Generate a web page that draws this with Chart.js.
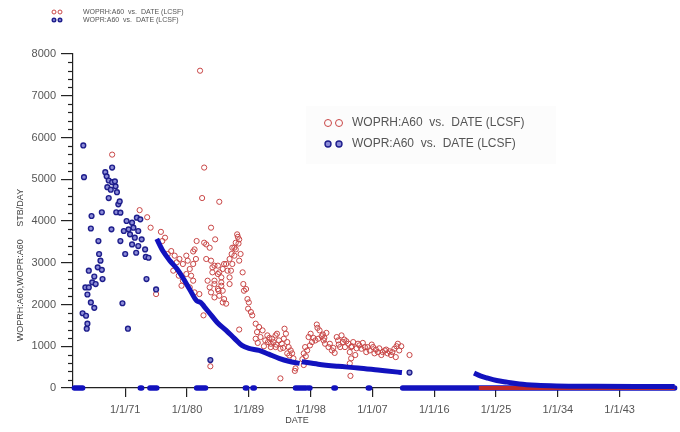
<!doctype html>
<html>
<head>
<meta charset="utf-8">
<title>WOPR A60</title>
<script src="https://cdn.jsdelivr.net/npm/chart.js"></script>
<style>
    html, body { margin: 0; padding: 0; background: #fff; }
    #wrap { width: 680px; height: 432px; position: relative; }
</style>
</head>
<body>
<div id="wrap"><canvas id="rateChart"></canvas></div>
<script>
    // date axis ticks (decimal years) and their labels
    var tickYears = [1971, 1980, 1989, 1998, 2007, 2016, 2025, 2034, 2043];
    var tickLabels = ['1/1/71', '1/1/80', '1/1/89', '1/1/98', '1/1/07', '1/1/16', '1/1/25', '1/1/34', '1/1/43'];

    // WOPRH:A60 observed rates [year, STB/DAY]
    var woprhPoints = [
        [1969.1, 5590], [1973.1, 4260], [1974.2, 4090], [1974.7, 3840], [1975.5, 2250], [1976.2, 3740],
        [1976.4, 3520], [1976.8, 3600], [1977.2, 3210], [1977.7, 3280], [1978.0, 2810], [1978.2, 3170],
        [1978.5, 3010], [1978.8, 2690], [1978.9, 3090], [1979.2, 2450], [1979.4, 2970], [1979.4, 2570],
        [1979.9, 3170], [1979.9, 2730], [1980.1, 3050], [1980.4, 2850], [1980.4, 2410], [1980.6, 2690],
        [1980.9, 2570], [1980.9, 3270], [1980.9, 2970], [1981.1, 2290], [1981.1, 3320], [1981.3, 3090],
        [1981.4, 3520], [1981.8, 2250], [1981.9, 7600], [1982.2, 4550], [1982.4, 1740], [1982.5, 5280],
        [1982.5, 3480], [1982.8, 3440], [1982.8, 3090], [1983.0, 2570], [1983.3, 3360], [1983.3, 2410],
        [1983.4, 520], [1983.5, 3840], [1983.5, 3050], [1983.5, 2290], [1983.7, 2770], [1983.7, 2890],
        [1984.0, 2930], [1984.0, 2490], [1984.0, 2170], [1984.0, 2570], [1984.1, 3560], [1984.5, 2930],
        [1984.5, 2370], [1984.5, 2730], [1984.6, 2330], [1984.7, 4460], [1984.7, 2770], [1984.7, 2210],
        [1985.0, 2650], [1985.0, 2530], [1985.0, 2450], [1985.2, 2850], [1985.2, 2330], [1985.2, 2050],
        [1985.4, 2130], [1985.4, 2970], [1985.7, 2970], [1985.7, 2020], [1985.9, 2810], [1986.2, 3090],
        [1986.2, 2650], [1986.2, 2490], [1986.4, 2810], [1986.5, 3210], [1986.6, 2970], [1986.6, 3360],
        [1986.9, 3360], [1986.9, 3170], [1987.1, 3480], [1987.1, 3320], [1987.3, 3680], [1987.4, 3620],
        [1987.5, 3460], [1987.6, 3560], [1987.6, 3050], [1987.6, 1400], [1987.8, 3210], [1988.1, 2770],
        [1988.2, 2490], [1988.3, 2330], [1988.6, 2370], [1988.8, 2130], [1988.9, 1900], [1989.0, 2050],
        [1989.3, 1820], [1989.5, 1740], [1990.0, 1540], [1990.0, 1180], [1990.2, 1340], [1990.3, 1080],
        [1990.5, 1460], [1990.7, 1220], [1991.0, 1380], [1991.2, 1000], [1991.4, 1140], [1991.7, 1260],
        [1991.8, 1100], [1992.0, 1200], [1992.2, 1060], [1992.2, 980], [1992.4, 1180], [1992.6, 1100],
        [1992.9, 1260], [1992.9, 980], [1993.0, 1040], [1993.1, 1300], [1993.4, 1140], [1993.6, 940],
        [1993.6, 230], [1993.8, 1060], [1994.0, 960], [1994.1, 1180], [1994.2, 1420], [1994.4, 1300],
        [1994.6, 1100], [1994.6, 830], [1994.8, 980], [1994.9, 780], [1995.1, 900], [1995.3, 830],
        [1995.5, 710], [1995.7, 410], [1995.8, 470], [1996.8, 690], [1997.0, 550], [1997.0, 830],
        [1997.2, 980], [1997.3, 760], [1997.5, 900], [1997.7, 1220], [1997.9, 1020], [1998.0, 1300],
        [1998.2, 1100], [1998.4, 1200], [1998.7, 1140], [1998.9, 1520], [1999.0, 1440], [1999.1, 1180],
        [1999.3, 1380], [1999.6, 1240], [1999.8, 1280], [1999.9, 1140], [2000.0, 1200], [2000.1, 1060],
        [2000.3, 1320], [2000.6, 980], [2000.8, 1060], [2001.1, 900], [2001.3, 960], [2001.5, 840],
        [2001.8, 1220], [2002.0, 1140], [2002.1, 1040], [2002.3, 980], [2002.5, 1260], [2002.7, 1100],
        [2002.9, 1160], [2003.0, 980], [2003.2, 1120], [2003.5, 1060], [2003.7, 860], [2003.7, 590],
        [2003.8, 290], [2003.9, 980], [2003.9, 710], [2004.0, 1000], [2004.2, 1100], [2004.5, 790],
        [2004.7, 950], [2004.9, 1060], [2005.1, 1020], [2005.4, 940], [2005.6, 1080], [2005.9, 980],
        [2006.1, 860], [2006.3, 980], [2006.6, 900], [2006.9, 1040], [2007.1, 980], [2007.3, 830],
        [2007.5, 920], [2007.8, 860], [2008.0, 950], [2008.3, 790], [2008.5, 860], [2008.8, 900],
        [2009.0, 920], [2009.2, 830], [2009.5, 880], [2009.7, 790], [2009.9, 860], [2010.2, 940],
        [2010.4, 740], [2010.5, 1000], [2010.7, 1060], [2010.9, 900], [2011.2, 1000], [2012.4, 790]
    ];
    // WOPRH:A60 stretches sitting on zero
    var woprhZeroSpans = [[2022.5, 2051]];

    // WOPR:A60 scattered rates [year, STB/DAY]
    var woprPoints = [
        [1964.8, 1790], [1964.9, 5810], [1965.0, 5050], [1965.2, 2410], [1965.3, 1730], [1965.4, 1420],
        [1965.5, 2240], [1965.5, 1540], [1965.7, 2810], [1965.7, 2410], [1966.0, 3820], [1966.0, 2050],
        [1966.1, 4120], [1966.2, 2530], [1966.5, 2670], [1966.5, 1920], [1966.7, 2490], [1967.0, 2890],
        [1967.1, 3520], [1967.2, 3210], [1967.4, 3050], [1967.6, 4210], [1967.6, 2830], [1967.7, 2610],
        [1968.1, 5170], [1968.3, 5070], [1968.4, 4810], [1968.6, 4970], [1968.6, 4550], [1968.9, 4750],
        [1969.0, 3800], [1969.1, 5280], [1969.1, 4930], [1969.5, 4950], [1969.6, 4830], [1969.7, 4210],
        [1969.8, 4690], [1970.0, 4400], [1970.2, 4470], [1970.3, 4200], [1970.3, 3520], [1970.6, 2030],
        [1970.8, 3760], [1971.0, 3210], [1971.2, 4000], [1971.4, 1420], [1971.5, 3800], [1971.7, 3680],
        [1972.0, 3960], [1972.0, 3440], [1972.2, 3840], [1972.4, 3600], [1972.6, 3240], [1972.7, 4080],
        [1972.9, 3760], [1972.9, 3400], [1973.2, 4040], [1973.4, 3560], [1973.9, 3320], [1974.0, 3140],
        [1974.1, 2610], [1974.4, 3120], [1975.5, 2360], [1983.4, 670], [2012.4, 370]
    ];
    // WOPR:A60 simulated history curve
    var woprCurve = [
        [1975.6, 3570], [1976.5, 3280], [1977.5, 3050], [1978.5, 2860], [1979.4, 2640], [1980.4, 2360],
        [1981.4, 2090], [1982.0, 2050], [1982.5, 1950], [1983.3, 1790], [1984.4, 1570], [1985.7, 1380],
        [1986.9, 1190], [1988.0, 1020], [1989.0, 950], [1990.5, 900], [1991.9, 810], [1993.4, 710],
        [1994.8, 640], [1996.4, 590]
    ];
    var woprCurveLate = [
        [1996.7, 630], [1999.1, 570], [2002.0, 520], [2004.9, 480], [2007.8, 430], [2010.7, 380], [2011.3, 370]
    ];
    // WOPR:A60 forecast decline
    var woprForecast = [
        [2021.8, 360], [2022.7, 290], [2023.7, 240], [2025.1, 180], [2026.6, 140], [2028.4, 95],
        [2030.9, 65], [2033.8, 50], [2039.5, 42], [2045.3, 38], [2051.0, 36]
    ];
    // WOPR:A60 stretches sitting on zero
    var woprZeroSpans = [
        [1963.6, 1964.8], [1973.2, 1973.4], [1974.6, 1975.6], [1981.4, 1982.7], [1988.5, 1988.7],
        [1989.6, 1989.8], [1995.8, 1997.3], [1997.7, 1997.9], [2001.4, 2001.6], [2006.4, 2006.6],
        [2011.4, 2051]
    ];

    var FONT = '"Liberation Sans", Arial, sans-serif';
    var RED = 'rgb(200,70,70)';
    var BLUE = 'rgb(18,18,190)';
    var BLUE_DARK = 'rgb(30,30,140)';

    function toXY(list) {
        return list.map(function (p) { return {x: p[0], y: p[1]}; });
    }

    function spansToXY(spans) {
        var out = [];
        spans.forEach(function (s) {
            out.push({x: s[0], y: 0}, {x: s[1], y: 0}, {x: s[1], y: null});
        });
        return out;
    }

    function drawMarker(ctx, type, x, y, r) {
        ctx.beginPath();
        ctx.arc(x, y, r, 0, Math.PI * 2);
        if (type === 'red') {
            ctx.strokeStyle = RED;
            ctx.lineWidth = 1;
            ctx.stroke();
        } else {
            ctx.fillStyle = 'rgb(140,140,215)';
            ctx.fill();
            ctx.strokeStyle = BLUE_DARK;
            ctx.lineWidth = 1.4;
            ctx.stroke();
        }
    }

    // minor ticks, legends and axis titles
    var decor = {
        id: 'decor',
        beforeDatasetsDraw: function (chart) {
            var ctx = chart.ctx;
            ctx.save();
            ctx.fillStyle = 'rgba(0,0,0,0.012)';
            ctx.fillRect(306, 106, 250, 58);
            ctx.restore();
        },
        afterDraw: function (chart) {
            var ctx = chart.ctx;
            var y = chart.scales.y;
            var left = chart.chartArea.left;
            ctx.save();

            ctx.strokeStyle = '#222';
            ctx.lineWidth = 1.2;
            for (var v = 200; v < 8000; v += 200) {
                if (v % 1000 === 0) continue;
                var py = Math.round(y.getPixelForValue(v)) + 0.5;
                ctx.beginPath();
                ctx.moveTo(left - 5, py);
                ctx.lineTo(left, py);
                ctx.stroke();
            }

            // small legend, top left
            drawMarker(ctx, 'red', 54, 12, 2);
            drawMarker(ctx, 'red', 60, 12, 2);
            drawMarker(ctx, 'blue', 54, 20, 1.8);
            drawMarker(ctx, 'blue', 60, 20, 1.8);
            ctx.fillStyle = '#555';
            ctx.font = '7px ' + FONT;
            ctx.textBaseline = 'middle';
            ctx.textAlign = 'left';
            ctx.fillText('WOPRH:A60  vs.  DATE (LCSF)', 83, 12);
            ctx.fillText('WOPR:A60  vs.  DATE (LCSF)', 83, 20);

            // legend inside the plot
            drawMarker(ctx, 'red', 328, 123, 3.5);
            drawMarker(ctx, 'red', 339, 123, 3.5);
            drawMarker(ctx, 'blue', 328, 144, 3);
            drawMarker(ctx, 'blue', 339, 144, 3);
            ctx.fillStyle = '#555';
            ctx.font = '12px ' + FONT;
            ctx.fillText('WOPRH:A60  vs.  DATE (LCSF)', 352, 123);
            ctx.fillText('WOPR:A60  vs.  DATE (LCSF)', 352, 144);

            // axis titles
            ctx.font = '9px ' + FONT;
            ctx.fillStyle = '#444';
            ctx.textAlign = 'center';
            ctx.fillText('DATE', 297, 421);
            ctx.translate(21, 265);
            ctx.rotate(-Math.PI / 2);
            ctx.fillText('WOPRH:A60,WOPR:A60     STB/DAY', 0, 0);

            ctx.restore();
        }
    };

    var lineBase = {
        showLine: true,
        pointRadius: 0,
        pointHoverRadius: 0,
        clip: false,
        spanGaps: false
    };

    new Chart(document.getElementById('rateChart'), {
        type: 'scatter',
        data: {
            datasets: [
                Object.assign({}, lineBase, {
                    label: 'WOPR forecast',
                    data: toXY(woprForecast),
                    borderColor: BLUE,
                    borderWidth: 5,
                    cubicInterpolationMode: 'monotone',
                    order: 0
                }),
                Object.assign({}, lineBase, {
                    label: 'WOPR curve',
                    data: toXY(woprCurve),
                    borderColor: BLUE,
                    borderWidth: 5,
                    cubicInterpolationMode: 'monotone',
                    order: 1
                }),
                Object.assign({}, lineBase, {
                    label: 'WOPR curve late',
                    data: toXY(woprCurveLate),
                    borderColor: BLUE,
                    borderWidth: 5,
                    cubicInterpolationMode: 'monotone',
                    order: 1
                }),
                Object.assign({}, lineBase, {
                    label: 'WOPRH zero',
                    data: spansToXY(woprhZeroSpans),
                    borderColor: 'rgb(190,40,40)',
                    borderWidth: 4,
                    order: 2
                }),
                Object.assign({}, lineBase, {
                    label: 'WOPR zero',
                    data: spansToXY(woprZeroSpans),
                    borderColor: BLUE,
                    borderWidth: 5.5,
                    borderCapStyle: 'round',
                    order: 3
                }),
                {
                    label: 'WOPR:A60',
                    data: toXY(woprPoints),
                    pointRadius: 2.4,
                    pointBorderWidth: 1.4,
                    pointBorderColor: BLUE_DARK,
                    pointBackgroundColor: 'rgb(140,140,215)',
                    clip: false,
                    order: 4
                },
                {
                    label: 'WOPRH:A60',
                    data: toXY(woprhPoints),
                    pointRadius: 2.6,
                    pointBorderWidth: 1,
                    pointBorderColor: RED,
                    pointBackgroundColor: 'rgba(255,255,255,0)',
                    clip: false,
                    order: 5
                }
            ]
        },
        options: {
            responsive: true,
            maintainAspectRatio: false,
            animation: false,
            layout: {padding: {top: 54, left: 0, right: 0, bottom: 0}},
            plugins: {
                legend: {display: false},
                tooltip: {enabled: false}
            },
            scales: {
                x: {
                    type: 'linear',
                    min: 1963.4,
                    max: 2051,
                    afterFit: function (s) { s.height = 44; },
                    afterBuildTicks: function (s) {
                        s.ticks = tickYears.map(function (v) { return {value: v}; });
                    },
                    ticks: {
                        autoSkip: false,
                        maxRotation: 0,
                        padding: 6,
                        color: '#555',
                        font: {family: FONT, size: 11},
                        callback: function (v, i) { return tickLabels[i]; }
                    },
                    grid: {drawOnChartArea: false, tickLength: 9, color: '#222', lineWidth: 1.2},
                    border: {color: '#222', width: 1.2}
                },
                y: {
                    min: 0,
                    max: 8000,
                    afterFit: function (s) { s.width = 73; },
                    ticks: {
                        stepSize: 1000,
                        padding: 5,
                        color: '#555',
                        font: {family: FONT, size: 11},
                        callback: function (v) { return String(v); }
                    },
                    grid: {drawOnChartArea: false, tickLength: 12, color: '#222', lineWidth: 1.2},
                    border: {color: '#222', width: 1.2}
                }
            }
        },
        plugins: [decor]
    });
</script>
</body>
</html>
